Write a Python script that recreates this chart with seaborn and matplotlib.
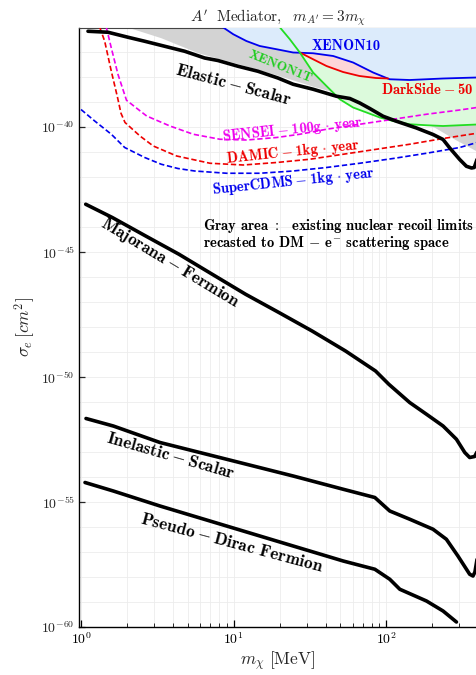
import numpy as np
import pandas as pd
import matplotlib
matplotlib.use("Agg")
import matplotlib.pyplot as plt
import matplotlib.ticker as mticker
import seaborn as sns

# ---------------- data (mass in MeV, log10 of sigma_e in cm^2) ----------------
elastic_m = [1.111, 1.502, 2.030, 2.612, 3.530, 4.771, 6.450, 7.88, 10.66, 14.40, 19.47,
             24.5, 33.1, 47.1, 57.6, 66.9, 77.8, 95.1, 116.4, 157.4, 202, 235, 260, 302,
             334, 361, 376, 392]
elastic_s = [-36.17, -36.21, -36.41, -36.57, -36.77, -36.97, -37.24, -37.34, -37.57, -37.77,
             -38.04, -38.29, -38.49, -38.77, -38.86, -39.04, -39.26, -39.57, -39.77, -40.04,
             -40.30, -40.50, -40.84, -41.30, -41.57, -41.64, -41.62, -41.30]

majorana_m = [1.073, 1.602, 2.651, 4.379, 7.23, 11.96, 19.76, 32.6, 54.0, 84.9, 103.7,
              142, 183, 235, 287.5, 326, 351, 378, 392]
majorana_s = [-43.09, -43.62, -44.36, -45.09, -45.89, -46.69, -47.42, -48.16, -48.96, -49.76,
              -50.29, -51.02, -51.49, -51.96, -52.49, -53.02, -53.22, -53.18, -53.00]

inelastic_m = [1.078, 1.627, 3.289, 8.98, 24.5, 52.1, 84.0, 105.2, 142.3, 202, 247, 294,
               351, 369, 380, 392]
inelastic_s = [-51.66, -51.96, -52.62, -53.29, -53.96, -54.49, -54.82, -55.36, -55.69,
               -56.09, -56.49, -57.16, -57.89, -57.96, -57.80, -57.30]

pseudo_m = [1.062, 1.627, 3.289, 8.98, 24.5, 52.1, 84.0, 105.2, 122.4, 183, 235, 287.5]
pseudo_s = [-54.22, -54.56, -55.16, -55.96, -56.76, -57.36, -57.69, -58.09, -58.49,
            -58.96, -59.36, -59.80]

sensei_m = [1.464, 1.579, 1.747, 1.985, 2.69, 3.824, 5.43, 8.12, 12.15, 19.1, 27.1, 40.5,
            66.9, 110.6, 183, 302, 392]
sensei_s = [-36.01, -36.84, -37.90, -38.93, -39.56, -39.96, -40.29, -40.49, -40.52, -40.42,
            -40.29, -40.09, -39.89, -39.69, -39.49, -39.32, -39.22]

damic_m = [1.326, 1.429, 1.579, 1.733, 1.827, 1.941, 2.433, 2.973, 4.23, 6.99, 11.54, 19.1,
           31.5, 52.1, 86.1, 142, 235, 392]
damic_s = [-36.01, -36.57, -37.77, -38.81, -39.45, -39.82, -40.36, -40.76, -41.16, -41.45,
           -41.52, -41.42, -41.29, -41.09, -40.89, -40.69, -40.46, -40.25]

cdms_m = [1.0, 1.229, 1.579, 1.932, 2.612, 3.354, 4.313, 5.55, 8.98, 14.84, 24.5, 40.5,
          66.9, 110.6, 183, 302, 392]
cdms_s = [-39.30, -39.76, -40.29, -40.82, -41.22, -41.49, -41.66, -41.76, -41.85, -41.85,
          -41.76, -41.62, -41.45, -41.26, -41.05, -40.82, -40.62]

xenon10_m = [8.54, 9.93, 12.1, 14.8, 19.1, 24.5, 33.1, 44.8, 60.5, 81.8, 105, 142, 183,
             235, 302, 392]
xenon10_s = [-36.02, -36.29, -36.56, -36.76, -36.89, -37.02, -37.05, -37.16, -37.42, -37.82,
             -38.09, -38.12, -38.09, -38.06, -38.04, -38.02]

xenon1t_m = [20.1, 23.3, 27.1, 33.1, 40.5, 49.5, 60.5, 74.1, 90.5, 110.6, 142, 183, 235,
             302, 392]
xenon1t_s = [-36.02, -36.49, -37.02, -37.82, -38.36, -38.89, -39.22, -39.42, -39.62,
             -39.76, -39.89, -39.93, -39.96, -39.93, -39.90]

darkside_m = [27.1, 33.1, 40.5, 52.0, 66.6, 85.4, 102.6]
darkside_s = [-37.02, -37.29, -37.56, -37.80, -37.96, -38.04, -38.06]

gray_m = [2.030, 3.338, 5.83, 10.66, 19.47, 33.0, 57.6, 94.7, 142.3, 201, 280, 392]
gray_s = [-36.01, -36.43, -37.03, -37.47, -37.93, -38.37, -38.77, -39.41, -39.69, -39.97,
          -40.49, -40.97]

x_ticks = [1, 10, 100]
y_ticks = [-60, -55, -50, -45, -40]

# ---------------- style ----------------
sns.set_theme(style="white")
plt.rcParams["mathtext.fontset"] = "cm"
plt.rcParams["font.family"] = ["DejaVu Serif", "DejaVu Sans"]

fig = plt.figure(figsize=(4.77, 6.75), dpi=100)
ax = fig.add_axes([79 / 477, 48 / 675, 398 / 477, 599 / 675])
ax.set_xscale("log")
ax.set_yscale("log")
XMIN, XMAX = 0.970, 392.0
YMIN, YMAX = 1e-60, 10 ** (-36.04)
TOP = YMAX * 10


def arr(v):
    return np.power(10.0, np.asarray(v, dtype=float))


# ---------------- filled regions ----------------
ax.fill_between(gray_m, arr(gray_s), TOP, color="#d3d3d3", lw=0, zorder=1)
ax.fill_between(xenon1t_m, arr(xenon1t_s), TOP, color="#dcfadc", lw=0, zorder=2)
ax.fill_between(xenon10_m, arr(xenon10_s), TOP, color="#dcebfb", lw=0, zorder=3)
blue_at_red = np.interp(np.log10(darkside_m), np.log10(xenon10_m), xenon10_s)
ax.fill_between(darkside_m, arr(darkside_s), arr(blue_at_red), color="#fdd5d8", lw=0, zorder=4)


def line(xs, ys, **kw):
    df = pd.DataFrame({"m": xs, "s": arr(ys)})
    sns.lineplot(data=df, x="m", y="s", ax=ax, estimator=None, sort=False, legend=False, **kw)


# experimental limits
line(xenon10_m, xenon10_s, color="#0000ee", lw=1.3, zorder=5)
line(darkside_m, darkside_s, color="#ee0000", lw=1.3, zorder=5)
line(xenon1t_m, xenon1t_s, color="#22dd22", lw=1.3, zorder=6)

dash = (0, (3.2, 1.6))
line(sensei_m, sensei_s, color="#ee00ee", lw=1.2, linestyle=dash, zorder=6)
line(damic_m, damic_s, color="#ee0000", lw=1.2, linestyle=dash, zorder=6)
line(cdms_m, cdms_s, color="#0000ee", lw=1.2, linestyle=dash, zorder=6)

# theory curves
for xs, ys in [(elastic_m, elastic_s), (majorana_m, majorana_s),
               (inelastic_m, inelastic_s), (pseudo_m, pseudo_s)]:
    line(xs, ys, color="black", lw=2.6, zorder=7)

# ---------------- axes ----------------
ax.set_xlim(XMIN, XMAX)
ax.set_ylim(YMIN, YMAX)
ax.xaxis.set_major_locator(mticker.FixedLocator(x_ticks))
ax.xaxis.set_minor_locator(mticker.LogLocator(base=10, subs=np.arange(2, 10), numticks=20))
ax.xaxis.set_major_formatter(mticker.FuncFormatter(lambda v, p: r"$10^{%d}$" % round(np.log10(v))))
ax.xaxis.set_minor_formatter(mticker.NullFormatter())
ax.yaxis.set_major_locator(mticker.FixedLocator([10.0 ** k for k in y_ticks]))
ax.yaxis.set_minor_locator(mticker.FixedLocator([10.0 ** k for k in range(-60, -35)]))
ax.yaxis.set_major_formatter(mticker.FuncFormatter(lambda v, p: r"$10^{%d}$" % round(np.log10(v))))
ax.yaxis.set_minor_formatter(mticker.NullFormatter())

ax.grid(True, which="both", color="#ececec", lw=0.6, zorder=0)
ax.set_axisbelow(True)
ax.tick_params(axis="x", which="major", direction="in", length=5, width=0.9, bottom=True,
               labelsize=10, pad=3, colors="black")
ax.tick_params(axis="x", which="minor", direction="in", length=3, width=0.7, bottom=True)
ax.tick_params(axis="y", which="major", direction="in", length=4, width=0.9, left=True,
               labelsize=10, pad=3)
ax.tick_params(axis="y", which="minor", length=0)
for s in ["left", "bottom"]:
    ax.spines[s].set_color("black")
    ax.spines[s].set_linewidth(1.0)
ax.spines["top"].set_color("#444444")
ax.spines["top"].set_linewidth(0.8)
ax.spines["right"].set_visible(False)

ax.set_xlabel(r"$m_{\chi}\ [\mathrm{MeV}]$", fontsize=12.5, labelpad=2)
ax.set_ylabel(r"$\sigma_e\,[cm^2]$", fontsize=12.5, labelpad=3)
ax.set_title(r"$A'\ \ \mathrm{Mediator},\ \ m_{A'}=3m_{\chi}$", fontsize=11, pad=5)

# ---------------- labels (bold Computer Modern) ----------------
M = r"$\hspace{0.03}-\hspace{0.03}$"
DOT = r"$\,\cdot\,$"


def lab(x, y, s, color="black", size=12, rot=0, ha="center"):
    ax.text(x, 10.0 ** y, s, color=color, fontsize=size, rotation=rot, ha=ha, va="center",
            rotation_mode="anchor", zorder=9, family="cmb10")


lab(9.9, -38.29, "Elastic" + M + "Scalar", size=12.5, rot=-15)
lab(20.1, -37.61, "XENON1T", color="#22cc22", size=10, rot=-22)
lab(54.2, -36.77, "XENON10", color="#0000ee", size=10.5)
lab(185, -38.49, "DarkSide" + M + "50", color="#ee0000", size=10.5)
lab(24.4, -40.09, "SENSEI" + M + "100g" + DOT + "year", color="#ee00ee", size=10.5, rot=6)
lab(24.4, -41.01, "DAMIC" + M + "1kg" + DOT + "year", color="#ee0000", size=10.5, rot=6)
lab(24.4, -42.17, "SuperCDMS" + M + "1kg" + DOT + "year", color="#0000ee", size=10.5, rot=6)
lab(3.82, -45.45, "Majorana" + M + "Fermion", size=12.5, rot=-31)
lab(6.29, -43.97, r"Gray area $:$  existing nuclear recoil limits", size=10.5, ha="left")
lab(6.29, -44.65, r"recasted to DM $-$ e$^{-}$ scattering space", size=10.5, ha="left")
lab(3.88, -53.13, "Inelastic" + M + "Scalar", size=12.5, rot=-16)
lab(9.73, -56.61, "Pseudo" + M + "Dirac Fermion", size=12.5, rot=-15)

fig.savefig("out.png", dpi=100)
